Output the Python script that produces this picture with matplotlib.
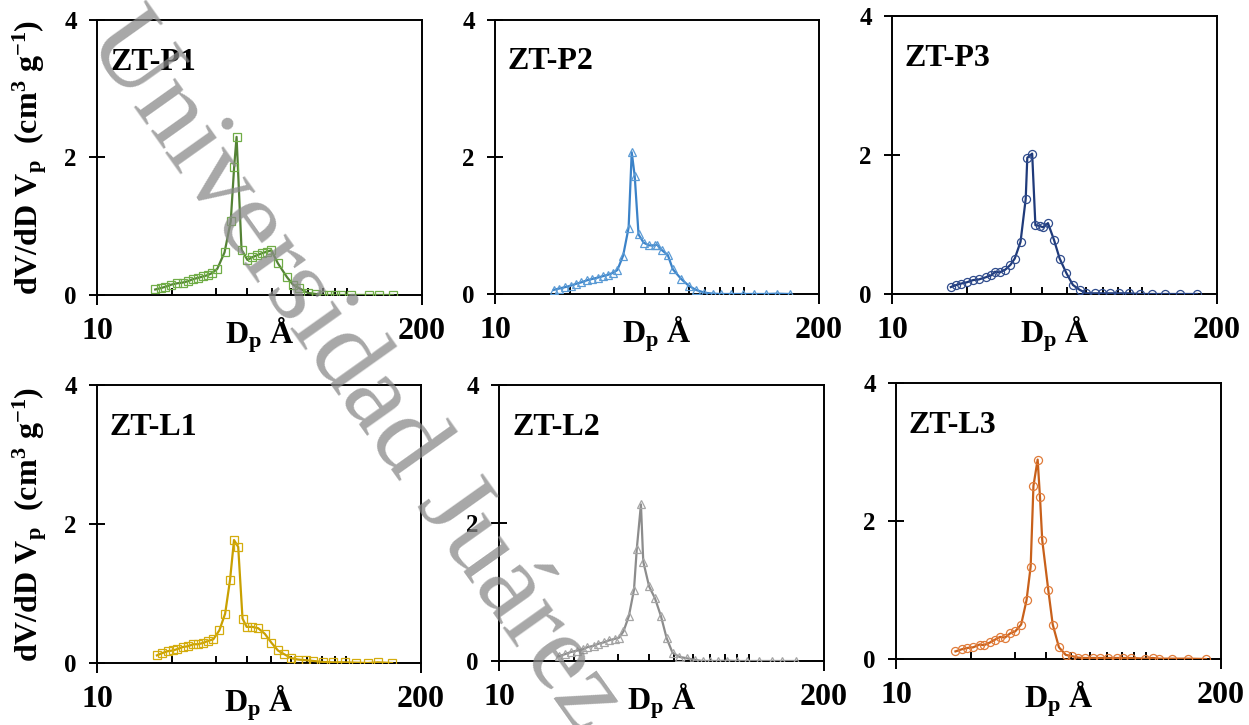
import numpy as np
import matplotlib
matplotlib.use("Agg")
import matplotlib.pyplot as plt
from matplotlib.ticker import NullFormatter

plt.rcParams['font.family'] = 'Liberation Serif'
plt.rcParams['font.weight'] = 'bold'
plt.rcParams['mathtext.fontset'] = 'custom'
plt.rcParams['mathtext.rm'] = 'Liberation Serif:bold'
plt.rcParams['mathtext.it'] = 'Liberation Serif:italic:bold'
plt.rcParams['mathtext.bf'] = 'Liberation Serif:bold'

## pore diameter (A) and dV/dD for each sample
p1_x = [17.1, 18.0, 18.8, 19.8, 20.9, 22.0, 23.1, 24.2, 25.4, 26.6, 27.8, 28.9, 30.3, 32.4,
        34.3, 35.4, 36.2, 37.9, 40.0, 41.9, 43.8, 45.9, 47.9, 49.9, 53.0, 57.6, 60.9, 64.4,
        69.9, 75.1, 80.3, 84.9, 89.4, 95.1, 103.6, 122.7, 134.6, 153.1]
p1_y = [0.08, 0.10, 0.12, 0.15, 0.17, 0.18, 0.20, 0.23, 0.25, 0.27, 0.29, 0.32, 0.38, 0.62,
        1.07, 1.86, 2.30, 0.66, 0.51, 0.55, 0.58, 0.61, 0.63, 0.65, 0.46, 0.26, 0.15, 0.10,
        0.03, 0.015, 0.0, 0.0, 0.0, 0.0, 0.0, 0.0, 0.0, 0.0]

p2_x = [17.2, 18.1, 19.1, 20.1, 21.2, 22.2, 23.4, 24.6, 25.9, 27.1, 28.4, 29.8, 31.0, 32.7,
        34.4, 35.4, 36.4, 37.7, 39.5, 41.5, 43.7, 44.8, 46.8, 49.4, 51.8, 55.9, 60.0, 64.1,
        69.3, 74.8, 80.8, 88.6, 98.6, 109.9, 122.3, 135.4, 152.6]
p2_y = [0.06, 0.08, 0.10, 0.12, 0.15, 0.17, 0.20, 0.22, 0.24, 0.26, 0.28, 0.31, 0.35, 0.56,
        0.97, 2.07, 1.72, 0.87, 0.75, 0.71, 0.71, 0.72, 0.64, 0.57, 0.36, 0.22, 0.12, 0.06,
        0.02, 0.005, 0.0, 0.0, 0.0, 0.0, 0.0, 0.005, 0.0]

p3_x = [17.2, 18.1, 18.9, 20.0, 21.1, 22.3, 23.7, 25.0, 25.8, 27.0, 28.4, 29.8, 31.0, 32.7,
        34.3, 34.8, 36.4, 37.5, 39.0, 40.2, 42.1, 44.5, 46.9, 49.9, 53.0, 56.4, 60.0, 64.7,
        69.5, 74.8, 81.0, 88.9, 98.0, 110.2, 123.5, 141.8, 166.3]
p3_y = [0.10, 0.13, 0.15, 0.17, 0.20, 0.21, 0.24, 0.27, 0.32, 0.31, 0.35, 0.42, 0.51, 0.75,
        1.37, 1.96, 2.02, 0.99, 0.98, 0.96, 1.02, 0.78, 0.51, 0.30, 0.13, 0.06, 0.01, 0.01,
        0.01, 0.01, 0.01, 0.01, 0.0, 0.0, 0.0, 0.0, 0.0]

l1_x = [17.4, 18.2, 19.2, 20.2, 21.0, 22.1, 23.1, 24.4, 25.5, 26.7, 28.0, 29.3, 31.0, 32.7,
        34.2, 35.5, 36.9, 38.4, 39.9, 42.1, 44.4, 47.2, 50.2, 53.3, 56.2, 60.3, 64.1, 68.9,
        73.6, 80.8, 88.6, 98.6, 109.2, 122.3, 134.1, 153.1]
l1_y = [0.11, 0.14, 0.17, 0.18, 0.20, 0.23, 0.24, 0.27, 0.27, 0.29, 0.32, 0.34, 0.47, 0.71,
        1.19, 1.77, 1.67, 0.64, 0.52, 0.52, 0.50, 0.42, 0.29, 0.18, 0.13, 0.07, 0.05, 0.04,
        0.03, 0.015, 0.01, 0.01, 0.005, 0.0, 0.01, 0.0]

l2_x = [17.4, 18.4, 19.4, 20.5, 21.6, 22.6, 23.9, 25.0, 26.3, 27.6, 29.0, 30.3, 31.5, 33.1,
        34.7, 35.6, 37.0, 37.8, 39.9, 42.1, 44.5, 46.9, 49.5, 52.7, 56.4, 60.9, 65.3, 69.9,
        75.5, 81.5, 89.4, 98.0, 110.2, 123.5, 135.4, 154.5]
l2_y = [0.07, 0.10, 0.13, 0.15, 0.17, 0.20, 0.22, 0.25, 0.27, 0.30, 0.32, 0.34, 0.43, 0.65,
        1.03, 1.62, 2.27, 1.44, 1.08, 0.91, 0.65, 0.33, 0.12, 0.06, 0.04, 0.015, 0.0, 0.0,
        0.0, 0.005, 0.0, 0.0, 0.0, 0.0, 0.0, 0.0]

l3_x = [17.3, 18.3, 19.3, 20.4, 21.6, 22.5, 23.8, 24.9, 26.1, 27.3, 28.6, 30.0, 31.7, 33.3,
        34.6, 35.5, 36.9, 37.7, 38.5, 40.7, 42.4, 44.9, 47.8, 50.8, 53.7, 57.1, 61.2, 65.6,
        70.8, 76.4, 81.3, 87.0, 99.3, 106.5, 113.3, 126.9, 148.1, 174.2]
l3_y = [0.11, 0.14, 0.16, 0.17, 0.21, 0.20, 0.24, 0.28, 0.32, 0.31, 0.37, 0.40, 0.50, 0.85,
        1.34, 2.51, 2.89, 2.35, 1.72, 1.00, 0.50, 0.17, 0.06, 0.04, 0.02, 0.015, 0.015, 0.015,
        0.015, 0.015, 0.015, 0.015, 0.005, 0.015, 0.005, 0.005, 0.005, 0.0]

names = ["ZT-P1", "ZT-P2", "ZT-P3", "ZT-L1", "ZT-L2", "ZT-L3"]
xs = [p1_x, p2_x, p3_x, l1_x, l2_x, l3_x]
ys = [p1_y, p2_y, p3_y, l1_y, l2_y, l3_y]
line_cols = ["#548235", "#3b82c8", "#1f3a7a", "#c9a000", "#8c8c8c", "#c8601a"]
mark_cols = ["#70ad47", "#5b9bd5", "#2f4b8c", "#d4ac0d", "#a5a5a5", "#e07b39"]
markers = ["s", "^", "o", "s", "^", "o"]

## panel boxes in pixels: left, top, right, bottom
W, H = 1249, 725
boxes = [(97, 20, 422, 295), (495, 20, 819, 294), (892, 16, 1217, 294),
         (97, 385, 421, 663), (499, 385, 824, 661), (896, 383, 1221, 659)]

fig = plt.figure(figsize=(W / 100, H / 100), dpi=100)

for i in range(6):
    l, t, r, b = boxes[i]
    ax = fig.add_axes([l / W, 1 - b / H, (r - l) / W, (b - t) / H])
    ax.plot(xs[i], ys[i], color=line_cols[i], lw=1.6, marker=markers[i],
            ms=5.8, mfc="none", mec=mark_cols[i], mew=0.9, zorder=3)
    ax.set_xscale("log")
    ax.set_xlim(10, 200)
    ax.set_ylim(0, 4)
    ax.set_xticks([10, 200])
    ax.set_xticklabels(["10", "200"])
    ax.set_xticks([20, 30, 40, 50, 60, 70, 80, 90, 100], minor=True)
    ax.xaxis.set_minor_formatter(NullFormatter())
    ax.set_yticks([0, 2, 4])
    ax.set_yticklabels(["0", "2", "4"])
    ax.tick_params(axis="x", which="major", direction="out", length=7, width=1.4,
                   labelsize=23, pad=9)
    ax.tick_params(axis="x", which="minor", direction="in", length=5, width=1.4)
    ax.tick_params(axis="y", which="major", direction="inout", length=11, width=1.4,
                   labelsize=18, pad=9)
    for s in ax.spines.values():
        s.set_linewidth(1.4)
    ax.text(0.04, 0.82, names[i], transform=ax.transAxes, fontsize=23,
            fontweight="bold", ha="left", va="baseline")
    ax.text(0.5, -0.075, r"D$_{\mathrm{p}}$ Å", transform=ax.transAxes, fontsize=23,
            fontweight="bold", ha="center", va="top")
    if i % 3 == 0:
        fig.text(30 / W, 1 - ((t + b) / 2) / H,
                 r"dV/dD V$_{\mathrm{p}}$  (cm$^{3}$ g$^{-1}$)", rotation=90,
                 fontsize=23, fontweight="bold", ha="center", va="center")

## watermark
fig.text(0.068, 0.945, "Universidad Juárez Autónoma de Tabasco", rotation=-54.6,
         rotation_mode="anchor", ha="left", va="baseline", fontsize=80,
         fontweight="normal", color="#8a8a8a", alpha=0.75, zorder=10)

fig.savefig("out.png", dpi=100)
